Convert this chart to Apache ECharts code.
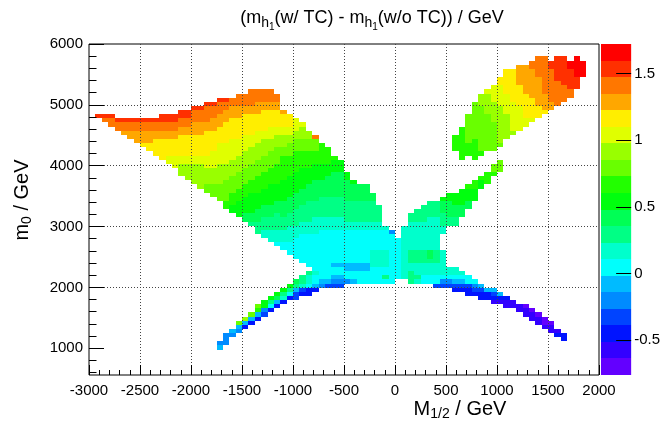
<!DOCTYPE html>
<html>
<head>
<meta charset="utf-8">
<script src="https://cdn.jsdelivr.net/npm/echarts@6.0.0/dist/echarts.min.js"></script>
<style>
  html, body { margin: 0; padding: 0; background: #fff; }
  #chart { width: 663px; height: 426px; }
</style>
</head>
<body>
<div id="chart"></div>
<script>
// histogram binning (GeV)
const xMin = -3000, binX = 62.5
const yMin = 570, binY = 67.875

// colour bar: z range and the 20 contour colours, lowest first
const zMin = -0.76, zMax = 1.72
const palette = ['#6300ff', '#3300ff', '#0014ff', '#0044ff', '#008bff', '#00bbff', '#00fffc', '#00ffcc',
  '#00ff85', '#00ff55', '#00ff0e', '#22ff00', '#69ff00', '#99ff00', '#e0ff00', '#ffee00',
  '#ffa700', '#ff7700', '#ff3000', '#ff0000']
const levelCodes = 'abcdefghijklmnopqrst' // a = lowest contour ... t = highest

const yTicks = [1000, 2000, 3000, 4000, 5000, 6000]
const yMinorTicks = [600, 800, 1200, 1400, 1600, 1800, 2200, 2400, 2600, 2800, 3200, 3400, 3600, 3800,
  4200, 4400, 4600, 4800, 5200, 5400, 5600, 5800]
const zTicks = [-0.5, 0, 0.5, 1, 1.5]

// bins, one column of bins per entry:
// "column:firstRow:runs", runs go upwards, a run = level letter + optional repeat count
const leftWing = [
  '1:62:s', '2:61:r s', '3:60:r2 s', '4:59:r2 s', '5:58:q r2 s', '6:57:q2 r2 s', '7:56:q3 r2 s',
  '8:55:p q3 r2 s', '9:54:p2 q3 r2 s', '10:53:p4 q2 r2 s', '11:52:p5 q2 r2 s2', '12:51:o2 p4 q2 r2 s2',
  '13:50:o3 p4 q2 r2 s2', '14:48:n3 o2 p5 q2 r2 s2', '15:47:n4 o2 p5 q2 r2 s2', '16:46:n5 o2 p5 q3 r3 s',
  '17:45:n6 o2 p5 q3 r3 s', '18:44:m2 n4 o3 p6 q2 r4 s', '19:43:m3 n4 o4 p5 q3 r3 s',
  '20:42:m4 n5 o5 p4 q3 r3 s', '21:40:l2 m5 n4 o5 p5 q3 r2 s', '22:39:k2 l3 m4 n4 o5 p5 q3 r2',
  '23:38:k4 l3 m4 n4 o4 p5 q3 r3', '24:37:j2 k4 l3 m4 n4 o4 p5 q2 r3', '25:36:i j2 k5 l3 m4 n4 o3 p5 q2 r4',
  '26:34:i3 j3 k4 l4 m4 n4 o3 p4 q3 r3', '27:33:h2 i3 j3 k4 l4 m4 n4 o2 p5 q2 r3',
  '28:32:h3 i3 j3 k5 l4 m4 n3 o3 p4 q2 r3', '29:31:g h3 i4 j3 k4 l5 m4 n3 o2 p4 q2 r2',
  '30:30:g2 h3 i3 j4 k5 l6 m2 n3 o2 p3 q', '31:29:g3 h4 i3 j4 k5 l5 m3 n2 o2 p3',
  '32:28:g5 h3 i4 j4 k5 l5 m3 n2 o3', '33:27:g7 h3 i4 j4 k5 l4 m3 n3 o', '34:26:g8 h3 i5 j4 k4 l4 m3 n2',
  '35:20:c f g2 h g9 h4 i4 j5 k4 l3 m3 r', '36:21:e f g12 h3 i5 j4 k4 l5', '37:21:d f g12 h3 i5 j5 k3 l4',
  '38:21:d e f g2 f g8 h3 i5 j6 k3 l', '39:21:d e f g2 f g8 h3 i5 j6 k3', '40:22:e g2 f2 g8 h2 i5 j5 k2',
  '41:22:f g2 f2 g8 h2 i5 j4 k', '42:22:g3 f2 g8 h2 i5 j4', '43:22:g3 f2 g8 h2 i5 j4',
  '44:22:g4 h4 g5 h2 i5 j2', '45:22:g4 h4 g5 h2 i4', '46:22:g i g2 h4 g5 h', '47:22:g12 e'
]
const centre = [
  '48:23:g10', '49:23:h13', '50:22:i3 h2 i3 h7 i2', '51:22:h i h3 i3 h7 i3', '52:22:g2 h3 i3 h7 i4',
  '53:22:g2 h3 i j2 h8 i4', '54:21:d g2 h3 i3 h8 i4', '55:21:d e g h6', '56:21:d e g h2',
  '57:20:c d f g h2', '58:20:c d f g h', '59:19:c2 d g2', '60:19:c d e g'
]
const rightArm = [
  '55:34:h2 i3 j3 k', '56:36:i2 j4 k2', '57:36:i2 j3 k3', '58:38:j3 k4', '59:40:j2 k3 l',
  '60:42:k3 l2', '61:45:k2 l', '62:46:l3', '63:48:l m2', '64:49:m3'
]
const lowerLeftArm = [
  '20:6:f e', '21:7:e3', '22:9:e f', '23:10:e f m', '24:11:c f n', '25:12:c f m', '26:13:c f l m',
  '27:14:d e k2', '28:15:c g i k', '29:16:c f j k', '30:17:c h i k', '31:18:c g i k', '32:18:d2 f i j',
  '33:19:c d h i2', '34:19:c2 g h2 i'
]
const lowerRightArm = [
  '61:18:c2 d f', '62:18:c2 f', '63:17:b c d f', '64:17:b c f', '65:16:b2 c', '66:16:b2', '67:15:b2',
  '68:14:b2 a', '69:13:b2 a', '70:12:b2 a', '71:11:b a2', '72:10:b2 a', '73:9:c b', '74:8:c2'
]
const rightBlob = [
  '57:54:l4', '58:52:l8', '59:53:l3 m7', '60:52:l5 m9', '61:53:l m11 n3', '62:54:m9 n5 o', '63:54:m7 n5 o4',
  '64:55:m n9 o5 p2', '65:57:n6 o5 p6', '66:58:n o7 p8', '67:59:o6 p5 q5', '68:60:o2 p6 q7',
  '69:61:o p5 q7 r2', '70:62:p3 q7 r5', '71:63:p q4 r9', '72:64:q2 r8 s2', '73:65:r6 s6', '74:66:r4 s7',
  '75:67:r2 s5 t2', '76:69:s3 t5', '77:72:t4'
]

const zStep = (zMax - zMin) / palette.length
const cells = []
;[leftWing, centre, rightArm, lowerLeftArm, lowerRightArm, rightBlob].forEach(part => {
  part.forEach(entry => {
    const [col, firstRow, runs] = entry.split(':')
    let row = +firstRow
    runs.split(' ').forEach(tok => {
      const level = levelCodes.indexOf(tok[0])
      const n = tok.length > 1 ? +tok.slice(1) : 1
      for (let k = 0; k < n; k++) {
        cells.push([xMin + col * binX, yMin + row * binY, +(zMin + (level + 0.5) * zStep).toFixed(3)])
        row++
      }
    })
  })
})
const barData = palette.map((c, i) => [0, zMin + i * zStep, zMin + (i + 0.5) * zStep])

const font = 'Liberation Sans, Arial, Helvetica, sans-serif'
const plain = v => String(v)

function cellItem(params, api) {
  const a = api.coord([api.value(0), api.value(1) + binY])
  const b = api.coord([api.value(0) + binX, api.value(1)])
  const x = Math.round(a[0]), y = Math.round(a[1])
  return {
    type: 'rect',
    shape: { x: x, y: y, width: Math.round(b[0]) - x, height: Math.round(b[1]) - y },
    style: { fill: api.visual('color') }
  }
}

function barItem(params, api) {
  const a = api.coord([0, api.value(1) + zStep])
  const b = api.coord([1, api.value(1)])
  const y = Math.round(a[1])
  return {
    type: 'rect',
    shape: { x: a[0], y: y, width: b[0] - a[0], height: Math.round(b[1]) - y },
    style: { fill: api.visual('color') }
  }
}

const gridLine = { show: true, showMinLine: false, showMaxLine: false, lineStyle: { color: '#444', type: [1, 2], width: 1 } }

const chart = echarts.init(document.getElementById('chart'))

chart.setOption({
  animation: false,
  backgroundColor: '#fff',
  grid: [
    { left: 89, right: 64, top: 44, bottom: 51, show: true, borderColor: '#000', borderWidth: 1,
      backgroundColor: 'transparent', z: 10 },
    { left: 601, right: 31, top: 44, bottom: 51 }
  ],
  visualMap: {
    type: 'piecewise', show: false, dimension: 2, seriesIndex: [0, 1],
    pieces: palette.map((c, i) => ({ gte: zMin + i * zStep, lt: zMin + (i + 1) * zStep, color: c }))
  },
  xAxis: [
    {
      type: 'value', gridIndex: 0, min: -3000, max: 2000, interval: 500, z: 10, position: 'bottom',
      axisLine: { show: false, onZero: false },
      axisTick: { inside: true, length: 10, lineStyle: { color: '#000' } },
      minorTick: { show: true, splitNumber: 5, length: 5, lineStyle: { color: '#000' } },
      splitLine: gridLine,
      axisLabel: { color: '#000', fontSize: 15, fontFamily: font, margin: 8, formatter: plain }
    },
    { type: 'value', gridIndex: 1, min: 0, max: 1, show: false }
  ],
  yAxis: [
    {
      type: 'value', gridIndex: 0, min: 560, max: 6000, z: 10, position: 'left',
      axisLine: { show: false, onZero: false },
      axisTick: { inside: true, length: 15, customValues: yTicks, lineStyle: { color: '#000' } },
      splitLine: gridLine,
      axisLabel: { customValues: yTicks, color: '#000', fontSize: 15, fontFamily: font, margin: 6, formatter: plain }
    },
    {
      type: 'value', gridIndex: 0, min: 560, max: 6000, z: 10, position: 'left',
      axisLine: { show: false, onZero: false }, splitLine: { show: false }, axisLabel: { show: false },
      axisTick: { inside: true, length: 7.5, customValues: yMinorTicks, lineStyle: { color: '#000' } }
    },
    {
      type: 'value', gridIndex: 1, min: zMin, max: zMax, position: 'right', z: 10,
      axisLine: { show: false, onZero: false }, splitLine: { show: false },
      axisTick: { inside: true, length: 15, customValues: zTicks, lineStyle: { color: '#000' } },
      axisLabel: { customValues: zTicks, color: '#000', fontSize: 15, fontFamily: font, margin: 3, formatter: plain }
    }
  ],
  series: [
    { type: 'custom', xAxisIndex: 0, yAxisIndex: 0, renderItem: cellItem, data: cells, encode: { x: 0, y: 1 } },
    { type: 'custom', xAxisIndex: 1, yAxisIndex: 2, renderItem: barItem, data: barData, encode: { x: 0, y: 1 } }
  ],
  graphic: [
    {
      type: 'text', x: 372, y: 18,
      style: {
        text: '(m{s|h}{t|1}(w/ TC) - m{s|h}{t|1}(w/o TC)) / GeV',
        fontSize: 18, fontFamily: font, fill: '#000', align: 'center', verticalAlign: 'middle',
        rich: {
          s: { fontSize: 14, fontFamily: font, fill: '#000', padding: [10, 0, 0, 0] },
          t: { fontSize: 10, fontFamily: font, fill: '#000', padding: [18, 0, 0, 0] }
        }
      }
    },
    {
      type: 'text', x: 22, y: 200, rotation: Math.PI / 2,
      style: {
        text: 'm{s|0} / GeV', fontSize: 20, fontFamily: font, fill: '#000', align: 'center', verticalAlign: 'middle',
        rich: { s: { fontSize: 14, fontFamily: font, fill: '#000', padding: [11, 0, 0, 0] } }
      }
    },
    {
      type: 'text', x: 460, y: 409,
      style: {
        text: 'M{s|1/2} / GeV', fontSize: 20, fontFamily: font, fill: '#000', align: 'center', verticalAlign: 'middle',
        rich: { s: { fontSize: 14, fontFamily: font, fill: '#000', padding: [11, 0, 0, 0] } }
      }
    }
  ]
})
</script>
</body>
</html>
